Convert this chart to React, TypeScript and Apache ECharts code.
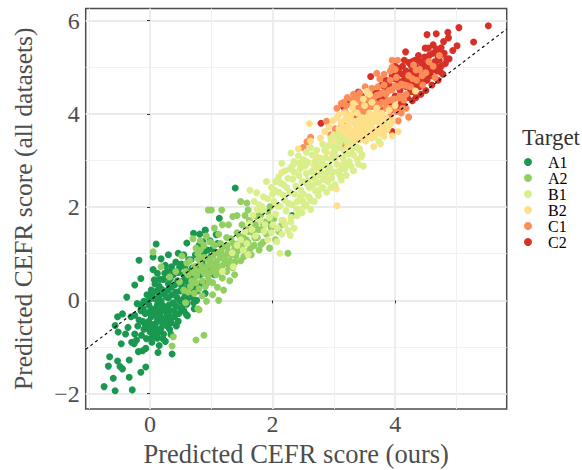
import React, { useEffect, useRef } from "react";
import * as echarts from "echarts";

const colors = ["#1A9850", "#91CF60", "#D9EF8B", "#FEE08B", "#FC8D59", "#D73027"];
const targetNames = ["A1", "A2", "B1", "B2", "C1", "C2"];
const drawOrder = [5, 4, 3, 0, 1, 2];
const xMajor = [0, 2, 4];
const xMinor = [-1, 1, 3, 5];
const yMajor = [-2, 0, 2, 4, 6];
const yMinor = [-1, 1, 3, 5];

const a1 = [
[-0.75,-1.85],[-0.57,-1.94],[-0.29,-1.92],[-0.6,-1.67],[-0.34,-1.65],[-0.15,-1.54],[-0.07,-1.43],[-0.68,-1.41],[-0.66,-1.21],[-0.53,-1.3],[-0.49,-1.42],[-0.45,-1.47],[-0.34,-1.28],
[0.10,1.21],[-0.18,0.86],[-0.15,0.47],[-0.25,0.33],[-0.38,0.07],[-0.21,-0.07],[-0.45,-0.29],[-0.53,-0.35],[-0.31,-0.35],[-0.57,-0.54],[-0.36,-0.58],[-0.52,-0.68],[-0.40,-0.72],[-0.25,-0.72],[-0.47,-0.93],[-0.30,-0.90],[-0.22,-0.85],[-0.26,-0.93],[-0.19,-1.10],[-0.12,-1.08],[-0.07,-1.03],[0.03,-0.90],[0.13,-1.12],[0.15,-0.97],[0.36,-1.15],[0.25,-0.88],[0.34,-0.73],[0.12,-0.81],[0.06,-0.73],[-0.05,-0.60],
[0.71,1.44],[1.13,1.76],[1.08,1.41],[0.90,1.50],[0.81,1.42],[0.60,1.23],[0.30,0.98],[0.46,1.01],[0.05,0.93],[0.18,0.89],[0.63,0.87],[0.67,0.87],[0.05,0.66],[0.92,0.37],[0.76,0.0],[0.61,-0.33],[0.46,-0.45],[1.39,2.41],[2.32,1.82],[0.90,1.51],[1.96,1.62],
[-0.12,-0.45],[-0.08,-0.28],[-0.02,-0.10],[0.02,-0.35],[0.05,-0.52],[0.08,-0.18],[0.10,0.02],[0.12,-0.42],[0.15,-0.28],[0.18,-0.60],[0.20,-0.10],[0.22,0.15],[0.25,-0.38],[0.28,-0.55],[0.30,0.05],[0.32,-0.22],[0.35,0.28],[0.38,-0.05],[0.40,-0.35],[0.42,0.18],[0.45,0.42],[0.48,0.00],[0.50,-0.18],[0.52,0.30],[0.55,0.55],[0.58,0.12],[0.60,-0.08],[0.62,0.38],[0.65,0.62],[0.70,0.25],[0.72,0.48],[0.75,0.72],[0.78,0.32],[0.82,0.55],[0.85,0.80],[0.88,1.02],[0.95,0.72],[1.00,0.95],[1.05,0.55],[0.22,0.45],[0.15,0.30],[0.08,0.35],[0.02,0.22],[-0.05,0.12],[-0.10,-0.02],[-0.15,-0.22],[-0.18,-0.42],[0.28,0.62],[0.35,0.72],[0.42,0.82],[0.25,0.75],[0.12,0.58],[0.55,0.98],[0.48,0.70],[0.38,0.55],[0.30,0.35],[0.18,-0.02],[0.02,-0.18],[-0.10,-0.62],[0.00,-0.68],[0.10,-0.62],[0.22,-0.72],[0.28,-0.28],[0.35,-0.48],[0.42,-0.12],[0.55,-0.22],[0.60,0.02],[0.68,0.08],[0.72,-0.18],[0.18,-0.25],[0.25,-0.15],[0.12,-0.10],[0.05,0.05],[0.15,0.10],[-0.02,-0.45],[0.08,-0.30],[0.20,-0.48],[0.32,-0.62],
[-0.25,-0.32],[-0.20,-0.55],[-0.16,-0.10],[-0.14,-0.75],[-0.11,-0.18],[-0.08,-0.52],[-0.06,-0.82],[-0.03,-0.26],[-0.01,0.02],[0.01,-0.58],[0.03,-0.80],[0.04,0.14],[0.06,-0.24],[0.07,0.44],[0.09,-0.50],[0.11,0.20],[0.13,-0.70],[0.14,-0.20],[0.16,0.45],[0.17,-0.36],[0.19,0.24],[0.21,-0.82],[0.23,-0.22],[0.24,0.58],[0.26,0.08],[0.27,-0.46],[0.29,0.22],[0.31,-0.10],[0.33,0.46],[0.34,-0.36],[0.36,0.12],[0.37,0.64],[0.39,-0.22],[0.41,0.34],[0.43,-0.55],[0.44,0.06],[0.46,0.60],[0.47,-0.28],[0.49,0.20],[0.51,0.78],[0.53,-0.10],[0.54,0.42],[0.56,0.06],[0.57,0.72],[0.59,-0.30],[0.61,0.26],[0.63,0.50],[0.66,0.18],[0.69,0.70],[0.71,-0.05],[0.74,0.98],[0.77,0.20],[0.80,1.18],[0.83,0.36],[0.86,1.26],[0.90,0.15],[0.94,1.08],[0.98,1.28],[1.02,1.10],[1.10,1.22]
];

const a2 = [
[1.48,2.12],[0.95,1.94],[1.17,1.94],[1.00,1.94],[1.58,2.09],[1.60,1.94],[1.96,2.01],[1.92,1.90],[2.25,1.01],[0.05,1.04],[0.38,-0.78],[0.36,-0.98],[0.88,-0.75],[0.75,-0.85],[0.80,-0.20],[0.78,-0.18],[1.12,0.00],
[0.52,0.95],[0.58,0.62],[0.62,0.55],[0.68,0.42],[0.72,0.15],[0.75,0.38],[0.78,0.62],[0.80,0.25],[0.82,0.78],[0.85,0.42],[0.88,0.58],[0.90,0.30],[0.92,0.72],[0.95,0.50],[0.98,0.85],[1.00,0.62],[1.02,0.38],[1.05,0.78],[1.08,0.55],[1.10,1.02],[1.12,0.72],[1.15,0.92],[1.18,0.48],[1.20,1.15],[1.22,0.82],[1.25,0.62],[1.28,1.05],[1.30,0.85],[1.32,1.32],[1.35,0.70],[1.38,1.10],[1.40,0.95],[1.42,1.45],[1.45,1.22],[1.48,0.85],[1.50,1.62],[1.52,1.35],[1.55,1.05],[1.58,1.52],[1.60,1.25],[1.62,1.72],[1.65,0.98],[1.68,1.45],[1.70,1.18],[1.72,1.62],[1.75,1.35],[1.78,1.08],[1.80,1.82],[1.82,1.52],[1.85,1.25],[1.88,1.68],[1.90,1.42],[1.95,1.12],[1.98,1.55],[2.02,1.75],[2.05,1.30],[2.10,1.48],[2.15,1.62],
[0.70,1.32],[0.75,1.12],[0.82,1.28],[0.88,1.18],[0.92,1.38],[0.98,1.25],[1.05,1.55],[1.12,1.42],[1.18,1.62],[1.28,1.62],[1.35,1.80],[1.42,1.82],[1.05,1.18],[1.15,1.22],[1.25,1.35],[0.48,0.40],[0.55,0.22],[0.62,0.18],[0.58,-0.05],[0.85,0.10],[0.92,-0.02],[1.02,0.12],[1.10,0.28],[1.20,0.22],[1.30,0.42],[1.38,0.55],[0.60,0.80],[0.42,0.62],[0.18,0.72],[0.32,0.50],[1.55,1.82],
[0.72,0.72],[0.76,0.52],[0.79,0.88],[0.84,0.66],[0.87,0.92],[0.91,0.60],[0.94,0.88],[0.96,0.40],[1.00,0.76],[1.03,0.96],[1.06,0.66],[1.09,0.84],[1.13,0.58],[1.16,1.06],[1.19,0.76],[1.23,0.96],[1.26,1.18],[1.29,0.74],[1.33,0.98],[1.36,1.22],[1.39,0.82],[1.43,1.06],[1.46,1.38],[1.50,1.18],[1.53,0.94],[1.57,1.30],[1.61,1.48],[1.64,1.12],[1.67,1.60],[1.71,1.34],[1.74,1.80],[1.77,1.52],[1.81,1.20],[1.84,1.66],[0.82,1.08],[0.90,0.92],[0.78,1.00],[0.70,0.60],[0.66,0.30],[0.65,0.85]
];

const b1 = [
[1.90,2.55],[1.63,2.36],[1.74,2.31],[2.30,3.16],[2.15,2.94],[2.12,1.01],[2.07,1.26],[2.29,1.39],[3.73,3.42],[3.37,3.29],[3.12,3.48],[1.18,0.62],[1.36,0.72],
[1.70,2.12],[1.78,2.05],[1.85,1.92],[1.92,2.18],[1.98,2.42],[2.02,2.12],[2.05,1.85],[2.10,2.32],[2.12,2.02],[2.15,1.72],[2.18,2.48],[2.20,2.15],[2.22,1.92],[2.25,2.62],[2.28,2.32],[2.30,1.78],[2.32,2.05],[2.35,2.75],[2.38,2.45],[2.40,2.12],[2.42,1.95],[2.45,2.82],[2.48,2.55],[2.50,2.28],[2.52,2.02],[2.55,2.72],[2.58,2.95],[2.60,2.42],[2.62,2.15],[2.65,3.12],[2.68,2.62],[2.70,2.35],[2.72,2.88],[2.75,2.52],[2.78,3.05],[2.80,2.72],[2.82,2.42],[2.85,3.22],[2.88,2.88],[2.90,2.55],[2.92,3.32],[2.95,3.02],[2.98,2.75],[3.00,3.18],[3.02,2.48],[3.05,2.92],[3.08,3.28],[3.10,2.68],[3.15,3.05],[3.18,2.82],[3.22,3.38],[3.25,2.98],[3.30,3.15],[3.32,2.78],[3.38,3.02],[3.42,3.22],[3.48,2.88],
[1.98,1.45],[1.88,1.62],[2.00,1.62],[2.08,1.55],[2.15,1.42],[2.20,1.62],[2.25,1.50],[2.30,1.68],[2.35,1.55],[2.40,1.82],[2.48,1.88],[2.55,2.05],[2.62,1.95],[2.68,2.12],[2.75,2.25],[2.50,3.02],[2.42,3.10],[2.35,2.98],[2.28,2.82],[2.20,2.78],[2.10,2.65],[2.05,2.55],[2.72,3.22],[2.62,3.28],[2.55,3.18],[2.82,3.35],[2.95,3.48],[3.05,3.55],[2.00,2.28],[1.85,2.22],[1.75,1.95],[1.68,1.82],[1.62,1.65],[1.55,1.48],[1.48,1.30],[1.42,1.18],[1.52,1.08],[1.60,0.98],[2.88,2.32],[2.95,2.42],[3.12,2.58],[3.20,2.68],
[1.82,2.02],[1.95,1.78],[2.03,2.36],[2.08,2.02],[2.13,2.52],[2.17,2.26],[2.23,2.42],[2.26,2.08],[2.33,2.60],[2.36,2.28],[2.39,1.96],[2.43,2.68],[2.46,2.36],[2.49,2.12],[2.53,2.88],[2.56,2.50],[2.59,2.22],[2.63,2.76],[2.66,2.48],[2.69,2.98],[2.73,2.68],[2.76,2.36],[2.79,2.86],[2.83,2.60],[2.86,3.06],[2.89,2.74],[2.93,2.86],[2.96,2.62],[2.99,3.30],[3.03,3.10],[3.06,2.76],[3.09,3.42],[3.13,2.82],[3.16,3.22],[3.20,2.95],[3.24,3.14],[3.28,2.88],[3.34,3.28],[3.40,2.92],[3.46,3.12],
[2.45,2.22],[2.58,2.58],[2.67,2.78],[2.80,2.98],[2.44,2.94],[2.32,2.88],[1.66,1.52],[1.72,1.38],[1.80,1.72],[1.58,1.22],[1.34,1.02],[1.86,1.48],[1.92,1.30]
];

const b2 = [
[2.60,3.79],[2.42,3.25],[3.05,2.03],[3.04,2.39],[2.49,2.14],[2.18,1.71],[2.15,2.74],[2.35,2.94],[3.54,4.48],[3.89,3.72],[3.95,3.53],[3.76,3.36],[4.33,4.49],[3.65,3.30],
[2.62,3.42],[2.72,3.08],[2.78,3.48],[2.85,3.62],[2.88,3.18],[2.92,3.72],[2.95,3.38],[2.98,3.85],[3.00,3.55],[3.02,3.22],[3.05,3.92],[3.08,3.68],[3.10,3.38],[3.12,3.82],[3.15,3.58],[3.18,4.02],[3.20,3.72],[3.22,3.45],[3.25,3.92],[3.28,3.62],[3.30,4.12],[3.32,3.82],[3.35,3.52],[3.38,4.02],[3.40,3.72],[3.42,3.45],[3.45,3.92],[3.48,3.62],[3.50,4.18],[3.52,3.82],[3.55,3.55],[3.58,4.02],[3.60,3.72],[3.62,4.25],[3.65,3.92],[3.68,3.62],[3.70,4.12],[3.72,3.82],[3.75,3.58],[3.78,4.02],[3.80,3.75],[3.85,3.92],[3.90,4.08],[3.95,3.85],[4.00,4.18],[3.32,4.22],[3.28,3.28],[3.18,3.18],[3.42,3.25],[3.52,3.42],[3.62,3.48],[3.48,4.32],[3.58,4.42],[2.75,2.85],[2.88,2.62],[3.02,3.05],[3.15,2.92],[3.32,3.12],[3.45,3.08],[2.68,2.88],[2.55,2.98],[3.05,3.42],[3.12,3.62],[3.22,3.28],[3.38,3.85],[3.48,3.78],[3.58,3.88],[3.28,3.98],[3.18,3.88],[3.08,3.98],[3.40,3.62],[3.52,3.68],[3.35,3.78],[3.25,3.68],[3.62,3.68],[3.70,3.92],[4.05,3.62],[3.82,3.52],
[2.98,3.12],[3.07,3.28],[3.14,3.46],[3.19,3.56],[3.24,3.36],[3.29,3.50],[3.33,3.42],[3.37,3.58],[3.41,3.82],[3.44,3.54],[3.46,3.72],[3.49,3.46],[3.53,3.92],[3.56,3.78],[3.59,3.58],[3.63,3.80],[3.66,3.52],[3.69,4.02],[3.73,3.68],[3.76,3.92],[3.79,3.64],[3.83,3.82],[3.87,3.66],[3.92,3.78],[3.30,3.86],[3.26,3.80],[3.20,3.62],[3.14,3.72],[3.36,3.68],[3.44,3.66]
];

const c1 = [
[2.88,3.84],[2.56,3.40],[3.95,5.15],[4.04,5.15],[3.70,4.87],[3.75,4.75],[3.51,4.58],[3.95,5.0],[4.22,3.93],[4.05,3.85],[3.16,4.25],[3.37,4.09],[2.62,3.50],[2.50,3.28],
[3.05,4.12],[3.12,4.22],[3.18,4.05],[3.22,4.35],[3.28,4.18],[3.32,4.42],[3.35,4.28],[3.38,4.12],[3.42,4.45],[3.45,4.22],[3.48,4.05],[3.55,4.32],[3.58,4.15],[3.62,4.55],[3.65,4.35],[3.68,4.22],[3.72,4.58],[3.75,4.42],[3.78,4.25],[3.82,4.62],[3.85,4.42],[3.88,4.28],[3.92,4.72],[3.95,4.52],[3.98,4.32],[4.02,4.78],[4.05,4.58],[4.08,4.38],[4.12,4.12],[4.15,4.62],[4.18,4.42],[4.22,4.82],[4.25,4.58],[4.30,5.05],[4.35,4.72],[4.40,4.95],[4.45,4.62],[4.50,4.88],[4.55,5.12],[4.62,5.02],[4.65,4.78],[4.72,5.25],[3.95,4.12],[4.02,4.05],[3.85,4.12],[3.75,4.02],[3.68,3.92],[3.58,3.98],[3.92,3.95],[4.10,4.02],[4.18,4.12],[3.02,3.68],[3.10,3.52],[3.18,3.35],[3.30,3.62],[3.42,3.98],[3.52,4.05],[3.22,3.98],[3.15,3.78],[2.95,3.55],[3.92,4.92],[3.82,4.85],[4.00,4.95],[3.60,4.22],
[3.46,4.30],[3.56,4.46],[3.64,4.16],[3.70,4.40],[3.74,4.18],[3.80,4.46],[3.84,4.24],[3.90,4.50],[3.94,4.30],[4.00,4.60],[4.06,4.34],[4.10,4.64],[4.14,4.30],[4.20,4.60],[4.28,4.76],[4.34,4.94],[4.44,4.82],[3.26,3.92],[3.34,4.02],[3.44,4.12],[3.54,4.16],[3.40,4.36],[3.30,4.30],[3.20,4.18]
];

const c2 = [
[5.52,5.89],[5.04,5.85],[5.28,5.54],[4.86,5.75],[4.67,5.72],[4.52,5.70],[4.87,5.63],[4.79,5.55],[5.01,5.46],[4.94,5.36],[4.49,5.41],[4.54,5.41],[4.17,5.33],[4.67,5.39],[4.84,5.18],[4.80,5.30],[4.71,5.34],[3.60,4.80],[3.40,4.47],[4.34,4.35],[4.15,5.15],[2.79,3.80],[3.16,4.14],[3.95,3.62],[3.47,4.30],[3.65,4.46],
[3.72,4.45],[3.78,4.62],[3.82,4.35],[3.85,4.72],[3.88,4.50],[3.92,4.25],[3.95,4.82],[3.98,4.58],[4.00,4.38],[4.02,4.92],[4.05,4.70],[4.08,4.50],[4.10,4.25],[4.12,5.02],[4.15,4.82],[4.18,4.58],[4.20,4.35],[4.22,5.10],[4.25,4.90],[4.28,4.68],[4.30,4.48],[4.32,5.15],[4.35,5.00],[4.38,4.82],[4.40,4.58],[4.42,5.12],[4.45,4.95],[4.48,4.75],[4.50,4.50],[4.52,5.18],[4.55,5.00],[4.58,4.82],[4.60,4.62],[4.62,5.30],[4.65,5.12],[4.68,4.92],[4.70,4.72],[4.72,5.15],[4.75,5.02],[4.78,4.85],[4.82,5.08],[4.88,5.18],[4.62,5.48],[4.75,5.42],[3.60,4.30],[3.52,4.22],[3.68,4.18],[3.78,4.08],[3.92,4.08],[4.05,4.15],[4.15,4.18],[4.28,4.28],[4.38,5.25],[4.48,5.22],[4.28,5.12],[4.22,4.72],[4.35,4.62],[4.42,4.42],[3.25,4.22],[3.32,3.95],[3.12,3.72],[3.45,4.38],[4.00,5.02],[4.12,4.70],[4.52,4.72],[4.40,4.72],[4.32,4.85],[4.25,4.48],[4.58,5.08],[4.48,4.90],
[4.18,4.92],[4.26,5.04],[4.34,5.14],[4.44,5.08],[4.50,5.04],[4.56,5.26],[4.60,4.94],[4.66,5.02],[4.70,5.24],[4.74,4.90],[4.76,5.28],[4.34,4.78],[4.38,4.92],[4.46,4.68],[4.54,4.86],[4.30,4.94],[4.24,4.82],[4.10,4.86],[4.06,4.98],[3.98,4.76],[3.90,4.62],[3.84,4.54],[3.76,4.34],[3.70,4.28]
];

const diagonal = [[-1.05,-1.05],[5.82,5.82]];

export default function App() {
  const ref = useRef<HTMLDivElement>(null);
  useEffect(() => {
    const chart = echarts.init(ref.current!, undefined, { renderer: "svg" });
    const font = "'Liberation Serif', 'Times New Roman', serif";
    const all = [a1, a2, b1, b2, c1, c2];
    const scatter = drawOrder.map((i) => ({ name: targetNames[i], data: all[i], color: colors[i] }));
    const fmt = (v: number) => String(v).replace("-", "\u2212");
    const major = (values: number[], margin: number, nameSize: number) => ({
      type: "value" as const,
      nameLocation: "middle" as const,
      nameTextStyle: { fontFamily: font, fontSize: nameSize, color: "#4d4d4d" },
      axisLine: { show: false },
      axisTick: { show: true, length: 3, customValues: values, lineStyle: { color: "#333333", width: 1 } },
      axisLabel: { fontFamily: font, fontSize: 24, color: "#4d4d4d", margin, customValues: values, formatter: fmt },
      splitLine: { show: true, lineStyle: { color: "#ebebeb", width: 1.8 } },
    });
    const minor = (values: number[]) => ({
      type: "value" as const,
      axisLine: { show: false },
      axisTick: { show: false, customValues: values },
      axisLabel: { show: false, customValues: values },
      splitLine: { show: true, lineStyle: { color: "#f0f0f0", width: 1 } },
    });
    const xRange = { min: -1.05, max: 5.82 };
    const yRange = { min: -2.33, max: 6.26 };
    chart.setOption({
      animation: false,
      backgroundColor: "#ffffff",
      textStyle: { fontFamily: font },
      grid: { left: 85.7, right: 75.3, top: 8.5, bottom: 61, containLabel: false, outerBoundsMode: "none", show: true, borderColor: "#4d4d4d", borderWidth: 1.5, backgroundColor: "transparent" },
      xAxis: [
        { ...major(xMajor, 3, 26.5), ...xRange, name: "Predicted CEFR score (ours)", nameGap: 27 },
        { ...minor(xMinor), ...xRange, position: "bottom" },
      ],
      yAxis: [
        { ...major(yMajor, 6, 25.5), ...yRange, name: "Predicted CEFR score (all datasets)", nameGap: 49 },
        { ...minor(yMinor), ...yRange, position: "left" },
      ],
      legend: {
        data: targetNames.map((name) => ({ name, icon: "circle" })),
        orient: "vertical", left: 524, top: 154, itemWidth: 8, itemHeight: 8, itemGap: 0,
        selectedMode: false, padding: 0,
        textStyle: { fontFamily: font, fontSize: 16, color: "#000000", lineHeight: 16, padding: [0, 0, 0, 11] },
      },
      graphic: [{ type: "text", left: 522, top: 126, style: { text: "Target", fontFamily: font, fontSize: 23, fill: "#333333" } }],
      series: [
        ...scatter.map((s) => ({
          type: "scatter", name: s.name, data: s.data, symbolSize: 7, silent: true,
          itemStyle: { color: s.color, opacity: 1 },
        })),
        {
          type: "line", name: "diagonal", data: diagonal, showSymbol: false, silent: true, z: 5,
          lineStyle: { color: "#000000", width: 1.1, type: [3, 3] },
        },
      ],
    });
    return () => chart.dispose();
  }, []);
  return <div ref={ref} style={{ position: "absolute", left: 0, top: 0, width: 582, height: 470 }} />;
}
